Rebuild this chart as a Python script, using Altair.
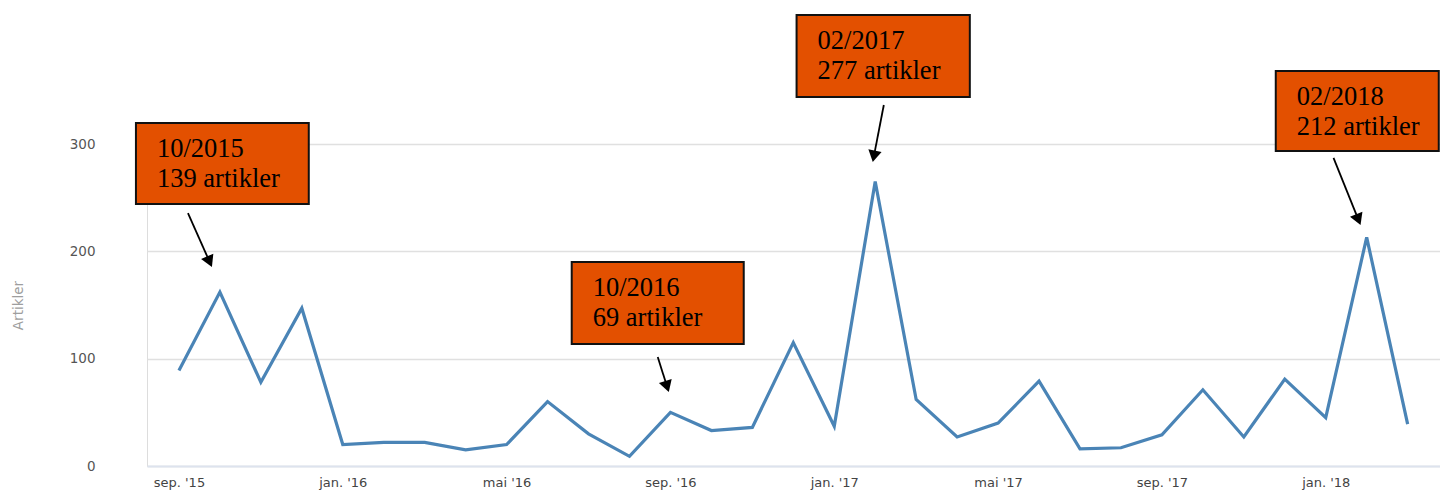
import math
import altair as alt
import pandas as pd

# ---------------- data ----------------
months = [
    "2015-09", "2015-10", "2015-11", "2015-12",
    "2016-01", "2016-02", "2016-03", "2016-04", "2016-05", "2016-06",
    "2016-07", "2016-08", "2016-09", "2016-10", "2016-11", "2016-12",
    "2017-01", "2017-02", "2017-03", "2017-04", "2017-05", "2017-06",
    "2017-07", "2017-08", "2017-09", "2017-10", "2017-11", "2017-12",
    "2018-01", "2018-02", "2018-03",
]
articles = [89, 162, 78, 147, 20, 22, 22, 15, 20, 60, 30, 9, 50, 33, 36, 115,
            37, 265, 62, 27, 40, 79, 16, 17, 29, 71, 27, 81, 45, 213, 39]

tick_positions = [0, 4, 8, 12, 16, 20, 24, 28]
tick_labels = ["sep. '15", "jan. '16", "mai '16", "sep. '16",
               "jan. '17", "mai '17", "sep. '17", "jan. '18"]
y_ticks = [0, 100, 200, 300]

# annotations (in data units: month index / number of articles)
ann_period = ["10/2015", "10/2016", "02/2017", "02/2018"]
ann_count = ["139 artikler", "69 artikler", "277 artikler", "212 artikler"]
ann_box_x = [-1.05, 9.59, 15.08, 26.78]
ann_box_x2 = [3.17, 13.79, 19.31, 30.76]
ann_box_top = [319.6, 190.1, 420.2, 368.0]
ann_box_bottom = [244.1, 113.7, 343.8, 293.5]
ann_from_x = [0.22, 11.69, 17.21, 28.19]
ann_from_y = [235.7, 101.6, 336.3, 287.0]
ann_to_x = [0.805, 11.96, 16.94, 28.85]
ann_to_y = [185.4, 68.9, 283.2, 224.5]

# ---------------- layout ----------------
W, H = 1293, 322
X_DOMAIN = [-0.78, 30.79]
Y_DOMAIN = [0, 300]
PXX = W / (X_DOMAIN[1] - X_DOMAIN[0])
PXY = H / (Y_DOMAIN[1] - Y_DOMAIN[0])
HEAD_SIZE = 180
HEAD_R = math.sqrt(HEAD_SIZE) / 2
HEAD_H = math.sqrt(3) * HEAD_R / 2

df = pd.DataFrame({"idx": list(range(len(months))), "month": months, "artikler": articles})

rows = []
for i in range(len(ann_period)):
    dxp = (ann_to_x[i] - ann_from_x[i]) * PXX
    dyp = -(ann_to_y[i] - ann_from_y[i]) * PXY
    L = math.hypot(dxp, dyp)
    ux, uy = dxp / L, dyp / L
    hx = ann_to_x[i] - ux * HEAD_H / PXX
    hy = ann_to_y[i] + uy * HEAD_H / PXY
    ang = (-math.degrees(math.atan2(dxp, dyp))) % 360
    rows.append({
        "period": ann_period[i], "count": ann_count[i],
        "bx": ann_box_x[i], "bx2": ann_box_x2[i],
        "bt": ann_box_top[i], "bb": ann_box_bottom[i],
        "fx": ann_from_x[i], "fy": ann_from_y[i],
        "hx": hx, "hy": hy, "ang": ang,
    })
ann = pd.DataFrame(rows)

xlabel_expr = "[" + ",".join('"%s"' % t for t in tick_labels) + "][round(datum.value / 4)]"

x_scale = alt.Scale(domain=X_DOMAIN, nice=False, zero=False)
y_scale = alt.Scale(domain=Y_DOMAIN, nice=False)

line = alt.Chart(df).mark_line(color="#4a84b6", strokeWidth=3.2).encode(
    x=alt.X("idx:Q", scale=x_scale, title=None,
            axis=alt.Axis(values=tick_positions, labelExpr=xlabel_expr, grid=False,
                          ticks=False, domainColor="#dde3ee", domainWidth=2,
                          labelFont="DejaVu Sans", labelFontSize=13,
                          labelColor="#444444", labelPadding=10)),
    y=alt.Y("artikler:Q", scale=y_scale, title="Artikler",
            axis=alt.Axis(values=y_ticks, grid=True, gridColor="#e0e0e0", gridWidth=1.5,
                          domain=False, ticks=False, labelFont="DejaVu Sans",
                          labelFontSize=13.5, labelColor="#555555", labelPadding=52,
                          titleFont="DejaVu Sans", titleFontSize=13.5,
                          titleFontWeight="normal", titleColor="#9e9e9e",
                          titlePadding=44)),
)

boxes = alt.Chart(ann).mark_rect(fill="#e35000", stroke="#111111", strokeWidth=2).encode(
    x=alt.X("bx:Q", scale=x_scale), x2="bx2:Q",
    y=alt.Y("bt:Q", scale=y_scale), y2="bb:Q",
)

text1 = alt.Chart(ann).mark_text(align="left", baseline="alphabetic", font="Liberation Serif",
                                 fontSize=26.5, color="#000000", dx=21, dy=34).encode(
    x=alt.X("bx:Q", scale=x_scale), y=alt.Y("bt:Q", scale=y_scale), text="period:N")

text2 = alt.Chart(ann).mark_text(align="left", baseline="alphabetic", font="Liberation Serif",
                                 fontSize=26.5, color="#000000", dx=21, dy=64).encode(
    x=alt.X("bx:Q", scale=x_scale), y=alt.Y("bt:Q", scale=y_scale), text="count:N")

shafts = alt.Chart(ann).mark_rule(color="#000000", strokeWidth=1.8).encode(
    x=alt.X("fx:Q", scale=x_scale), y=alt.Y("fy:Q", scale=y_scale),
    x2="hx:Q", y2="hy:Q")

heads = alt.Chart(ann).mark_point(shape="triangle-down", filled=True, color="#000000",
                                  opacity=1, size=HEAD_SIZE, strokeWidth=0).encode(
    x=alt.X("hx:Q", scale=x_scale), y=alt.Y("hy:Q", scale=y_scale),
    angle=alt.Angle("ang:Q", scale=None))

chart = alt.layer(line, boxes, text1, text2, shafts, heads).properties(
    width=W, height=H,
    padding={"left": 139, "top": 136, "right": 0, "bottom": 25},
    autosize=alt.AutoSizeParams(type="none"),
).configure_view(stroke=None).configure(background="#ffffff")

chart.save("out.html", embed_options={"renderer": "svg", "actions": False})
